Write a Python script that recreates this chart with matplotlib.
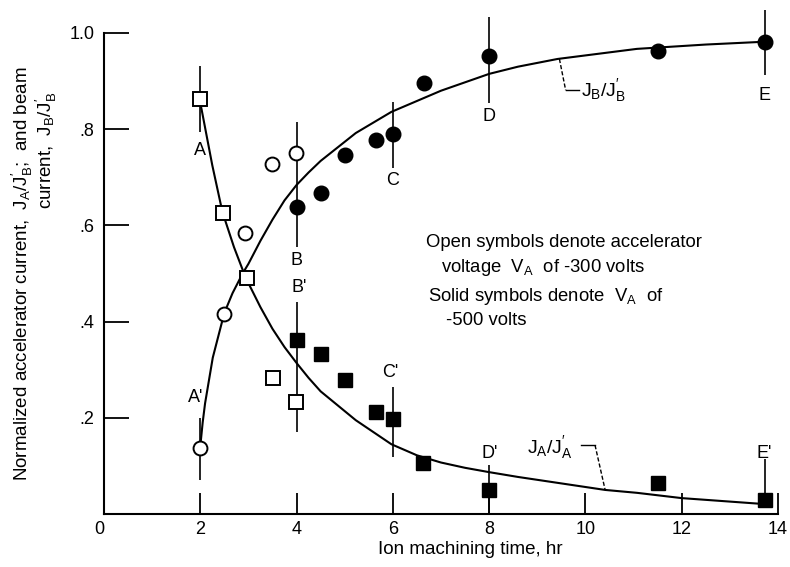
import matplotlib
matplotlib.use("Agg")
import matplotlib.pyplot as plt
from matplotlib import font_manager

# condensed look of the scanned figure if a narrow face exists
names = {f.name for f in font_manager.fontManager.ttflist}
FONT = "Liberation Sans Narrow" if "Liberation Sans Narrow" in names else "Liberation Sans"
plt.rcParams["font.family"] = [FONT, "DejaVu Sans"]
plt.rcParams["mathtext.fontset"] = "custom"
plt.rcParams["mathtext.rm"] = FONT
plt.rcParams["mathtext.it"] = FONT

# open symbols: VA = -300 V ; solid symbols: VA = -500 V
open_sq_x = [2.0, 2.48, 2.97, 3.52, 3.99]
open_sq_y = [0.862, 0.626, 0.490, 0.282, 0.232]
open_ci_x = [2.0, 2.5, 2.93, 3.5, 3.99]
open_ci_y = [0.137, 0.416, 0.584, 0.727, 0.750]
solid_ci_x = [4.0, 4.5, 5.0, 5.66, 6.0, 6.65, 8.0, 11.5, 13.74]
solid_ci_y = [0.638, 0.668, 0.746, 0.778, 0.790, 0.896, 0.952, 0.962, 0.981]
solid_sq_x = [4.0, 4.5, 5.0, 5.66, 6.0, 6.62, 8.0, 11.5, 13.74]
solid_sq_y = [0.362, 0.333, 0.279, 0.212, 0.197, 0.107, 0.050, 0.065, 0.029]

# faired curves
jb_x = [2.0, 2.05, 2.1, 2.26, 2.5, 2.67, 2.88, 3.0, 3.25, 3.5, 3.75, 4.0, 4.25,
        4.5, 5.23, 5.97, 7.0, 8.0, 8.6, 9.42, 11.07, 12.5, 13.75]
jb_y = [0.14, 0.19, 0.23, 0.325, 0.418, 0.459, 0.50, 0.52, 0.568, 0.612, 0.652,
        0.684, 0.71, 0.734, 0.792, 0.836, 0.88, 0.915, 0.93, 0.946, 0.967, 0.976, 0.982]
ja_x = [2.0, 2.03, 2.25, 2.46, 2.7, 2.91, 3.0, 3.25, 3.5, 3.75, 4.0, 4.25, 4.5,
        5.23, 5.97, 6.5, 7.0, 7.5, 8.0, 8.6, 10.41, 11.07, 12.0, 13.8]
ja_y = [0.855, 0.84, 0.725, 0.628, 0.555, 0.50, 0.48, 0.43, 0.385, 0.347, 0.314,
        0.283, 0.255, 0.195, 0.145, 0.122, 0.107, 0.096, 0.087, 0.077, 0.05, 0.044,
        0.033, 0.02]

# reference bars (x, y_low, y_high) and their letters (label, x, y)
bar_x = [2.0, 2.0, 4.0, 4.0, 6.0, 6.0, 8.0, 8.0, 13.74, 13.74]
bar_lo = [0.794, 0.071, 0.555, 0.17, 0.72, 0.118, 0.854, 0.0, 0.913, 0.015]
bar_hi = [0.932, 0.20, 0.815, 0.44, 0.857, 0.264, 1.033, 0.102, 1.048, 0.115]
letters = ["A", "A'", "B", "B'", "C", "C'", "D", "D'", "E", "E'"]
letter_x = [2.0, 1.9, 4.0, 4.05, 6.0, 5.95, 8.0, 8.02, 13.72, 13.72]
letter_y = [0.755, 0.242, 0.528, 0.47, 0.694, 0.295, 0.826, 0.125, 0.871, 0.125]

fig = plt.figure(figsize=(7.9, 5.67), dpi=100)
ax = fig.add_axes([0.1316, 0.0935, 0.8532, 0.8483])

ax.plot(jb_x, jb_y, color="black", lw=1.5)
ax.plot(ja_x, ja_y, color="black", lw=1.5)
ax.vlines(bar_x, bar_lo, bar_hi, color="black", lw=1.2, clip_on=False)

ax.plot(open_sq_x, open_sq_y, "s", ms=9.5, mfc="white", mec="black", mew=1.4, clip_on=False)
ax.plot(open_ci_x, open_ci_y, "o", ms=10, mfc="white", mec="black", mew=1.4, clip_on=False)
ax.plot(solid_ci_x, solid_ci_y, "o", ms=10.5, color="black", clip_on=False)
ax.plot(solid_sq_x, solid_sq_y, "s", ms=10.5, color="black", clip_on=False)

for lab, lx, ly in zip(letters, letter_x, letter_y):
    ax.text(lx, ly, lab, ha="center", va="center", fontsize=13)

# curve labels with leader lines
ax.plot([9.46, 9.59], [0.946, 0.881], color="black", lw=1, ls=(0, (3, 1.5)))
ax.plot([9.59, 9.86], [0.881, 0.881], color="black", lw=1)
ax.text(9.9, 0.881, r"$\mathregular{J_B/J_B^{\prime}}$", ha="left", va="center", fontsize=14)
ax.plot([9.9, 10.2], [0.143, 0.143], color="black", lw=1)
ax.plot([10.2, 10.41], [0.143, 0.05], color="black", lw=1, ls=(0, (3, 1.5)))
ax.text(9.75, 0.139, r"$\mathregular{J_A/J_A^{\prime}}$", ha="right", va="center", fontsize=14)

ax.text(6.69, 0.555, "Open symbols denote accelerator", fontsize=13.3, va="baseline")
ax.text(7.0, 0.503, r"voltage  $\mathregular{V_A}$  of -300 volts", fontsize=13.3, va="baseline")
ax.text(6.74, 0.443, r"Solid symbols denote  $\mathregular{V_A}$  of", fontsize=13.3, va="baseline")
ax.text(7.11, 0.393, "-500 volts", fontsize=13.3, va="baseline")

ax.set_xlim(0, 14)
ax.set_ylim(0, 1.0)
ax.set_xticks([0, 2, 4, 6, 8, 10, 12, 14])
ax.set_xticklabels(["0", "2", "4", "6", "8", "10", "12", "14"])
ax.set_yticks([0.2, 0.4, 0.6, 0.8, 1.0])
ax.set_yticklabels([".2", ".4", ".6", ".8", "1.0"])
ax.tick_params(axis="x", direction="in", length=15, width=1.3, labelsize=13, pad=5)
ax.tick_params(axis="y", direction="in", length=18, width=1.3, labelsize=13, pad=7)
for s in ["top", "right"]:
    ax.spines[s].set_visible(False)
for s in ["left", "bottom"]:
    ax.spines[s].set_linewidth(1.5)
ax.get_xticklabels()[0].set_horizontalalignment("right")

fig.text(470 / 790, 1 - 549 / 567, "Ion machining time, hr", ha="center", va="center", fontsize=13.5)
fig.text(22 / 790, 1 - 274 / 567,
         r"Normalized accelerator current,  $\mathregular{J_A/J_B^{\prime}}$;  and beam",
         rotation=90, ha="center", va="center", fontsize=13.5)
fig.text(46 / 790, 1 - 150 / 567, r"current,  $\mathregular{J_B/J_B^{\prime}}$",
         rotation=90, ha="center", va="center", fontsize=13.5)

fig.savefig("out.png", dpi=100)
